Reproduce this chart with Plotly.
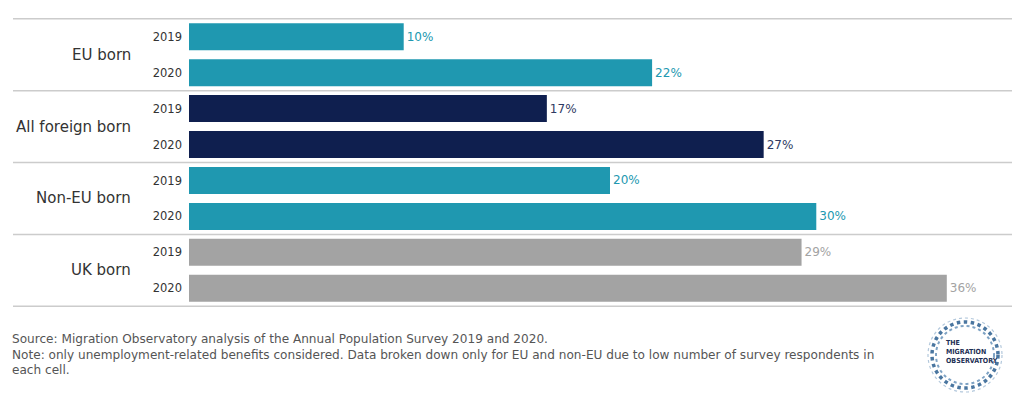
import plotly.graph_objects as go

groups = ["EU born", "All foreign born", "Non-EU born", "UK born"]
years = ["2019", "2020"]
values = [10.2, 22.0, 17.0, 27.3, 20.0, 29.8, 29.1, 36.0]
labels = ["10%", "22%", "17%", "27%", "20%", "30%", "29%", "36%"]
group_colors = ["#1f98b0", "#0f1f4f", "#1f98b0", "#a3a3a3"]
label_colors = ["#2198b0", "#2e3a63", "#2198b0", "#a3a3a3"]

cats = [f"{g} {y}" for g in groups for y in years]
bar_colors = [c for c in group_colors for _ in years]
txt_colors = [c for c in label_colors for _ in years]
ticktext = [y for _ in groups for y in years]

# page body has an 8px margin: work in window pixels, convert to figure pixels
OFF = 8
W, H = 1020 - OFF, 399 - OFF
plot_left, plot_right, plot_top, plot_bottom = 189, 1005, 18, 307
ml, mr = plot_left - OFF, W - (plot_right - OFF)
mt, mb = plot_top - OFF, H - (plot_bottom - OFF)
pw = W - ml - mr
ph = H - mt - mb
px_per_unit = 21.05


def px(xw):
    return (xw - plot_left) / pw


def py(yw):
    return (plot_bottom - yw) / ph


fig = go.Figure()
fig.add_trace(go.Bar(
    x=values, y=cats, orientation="h",
    marker=dict(color=bar_colors, line=dict(width=0)),
    text=labels, textposition="outside",
    textfont=dict(color=txt_colors, size=12, family="DejaVu Sans"),
    cliponaxis=False, hoverinfo="skip",
))

shapes = []
for i in range(len(groups) + 1):
    yv = i * len(years) - 0.5
    shapes.append(dict(type="line", xref="paper", yref="y",
                       x0=px(13), x1=px(1020), y0=yv, y1=yv,
                       line=dict(color="#cccccc", width=1.5)))

annotations = []
for i, g in enumerate(groups):
    annotations.append(dict(text=g, xref="paper", yref="y",
                            x=px(133), y=i * len(years) + 0.5,
                            xanchor="right", yanchor="middle", showarrow=False,
                            font=dict(size=15, color="#333333", family="DejaVu Sans")))

annotations.append(dict(
    text="Source: Migration Observatory analysis of the Annual Population Survey 2019 and 2020.<br>"
         "Note: only unemployment-related benefits considered. Data broken down only for EU and non-EU due to low number of survey respondents in<br>"
         "each cell.",
    xref="paper", yref="paper", x=px(10), y=py(330),
    xanchor="left", yanchor="top", align="left", showarrow=False,
    font=dict(size=12.1, color="#555555", family="DejaVu Sans")))

# logo
cx, cy = 965, 355
for r, wdt, col in [(33, 3.5, "#4a76a0"), (29, 2, "#7fa3c4"), (37, 1.2, "#b3c8dc")]:
    shapes.append(dict(type="circle", xref="paper", yref="paper",
                       x0=px(cx - r), x1=px(cx + r),
                       y0=py(cy + r), y1=py(cy - r),
                       line=dict(color=col, width=wdt, dash="dot")))
annotations.append(dict(text="<b>THE<br>MIGRATION<br>OBSERVATORY</b>", xref="paper", yref="paper",
                        x=px(944), y=py(352),
                        xanchor="left", yanchor="middle", align="left", showarrow=False,
                        font=dict(size=7, color="#1d2f55", family="DejaVu Sans Condensed")))

fig.update_layout(
    width=W, height=H, margin=dict(l=ml, r=mr, t=mt, b=mb),
    paper_bgcolor="white", plot_bgcolor="white",
    bargap=0.25, showlegend=False,
    shapes=shapes, annotations=annotations,
    xaxis=dict(range=[0, pw / px_per_unit], visible=False, fixedrange=True),
    yaxis=dict(categoryorder="array", categoryarray=cats, autorange="reversed",
               tickvals=cats, ticktext=ticktext, showgrid=False, zeroline=False,
               showline=False, ticks="", ticklabelstandoff=6,
               tickfont=dict(size=11.5, color="#333333", family="DejaVu Sans")),
    font=dict(family="DejaVu Sans"),
)

fig.write_html("out.html")
